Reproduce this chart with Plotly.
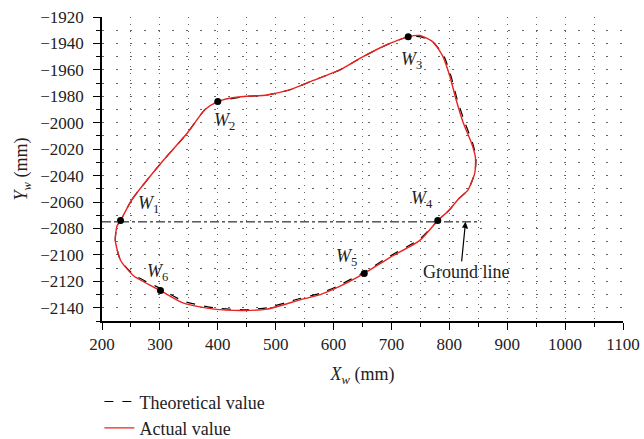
import plotly.graph_objects as go

# Actual trajectory (closed loop, starting at W1)
actual_x = [232, 252, 301, 347, 378, 400, 421, 450, 485, 525, 565, 611, 651, 692, 729, 749, 772, 789, 801, 812, 824, 838, 845, 844, 832, 815, 800, 780, 749, 697, 653, 605, 577, 542, 485, 445, 393, 341, 301, 255, 232, 223, 226, 232]
actual_y = [-2074, -2058, -2031, -2008, -1990, -1984, -1981.5, -1980, -1979, -1975, -1968, -1960, -1950, -1941, -1935, -1934, -1939, -1950, -1965, -1983, -2000, -2015, -2026, -2038, -2051, -2058, -2066, -2074, -2089, -2102, -2114, -2125, -2130, -2134, -2141, -2142, -2141, -2136.5, -2127, -2116, -2104, -2089, -2078, -2074]

# Theoretical trajectory
theo_x = [232, 252, 301, 347, 378, 400, 421, 450, 485, 525, 565, 611, 651, 692, 729, 751, 774, 791, 803, 814, 827, 840, 846, 844, 832, 815, 800, 780, 749, 697, 653, 605, 577, 542, 485, 445, 393, 341, 301, 255, 232, 223, 226, 232]
theo_y = [-2074, -2058, -2031, -2008, -1990, -1984, -1982, -1980, -1979, -1975, -1968, -1960, -1950, -1941, -1935, -1935, -1940, -1950, -1965, -1983, -2000, -2015, -2026, -2038, -2051, -2058, -2066, -2074, -2088, -2101, -2113, -2124, -2129, -2133, -2140, -2141.5, -2140, -2135, -2125.5, -2115, -2104, -2089, -2078, -2074]

# Key points W1..W6
w_x = [232, 400, 729, 780, 653, 301]
w_y = [-2074, -1984, -1935, -2074, -2114, -2127]
w_labels = ["1", "2", "3", "4", "5", "6"]
w_label_x = [280, 411, 734, 753, 622, 296]
w_label_y = [-2062, -1999, -1953, -2058, -2102, -2113]

ground_y = -2075
ground_x = [200, 855]

x_ticks = [200, 300, 400, 500, 600, 700, 800, 900, 1000, 1100]
y_ticks = list(range(-2140, -1919, 20))
y_ticktext = [f"\u2212{abs(v)}" for v in y_ticks]

FONT = "Liberation Serif"
FS = 18
TFS = 17
GRID = "#666"

fig = go.Figure()
fig.add_trace(go.Scatter(x=theo_x, y=theo_y, mode="lines", name="Theoretical value",
                         line=dict(color="black", width=1.2, dash="dash", shape="spline", smoothing=0.6)))
fig.add_trace(go.Scatter(x=actual_x, y=actual_y, mode="lines", name="Actual value",
                         line=dict(color="#e8231f", width=1.4, shape="spline", smoothing=0.6)))
fig.add_trace(go.Scatter(x=ground_x, y=[ground_y, ground_y], mode="lines", showlegend=False,
                         line=dict(color="black", width=1, dash="dashdot")))
fig.add_trace(go.Scatter(x=w_x, y=w_y, mode="markers", showlegend=False,
                         marker=dict(color="black", size=7)))

for lx, ly, lab in zip(w_label_x, w_label_y, w_labels):
    fig.add_annotation(x=lx, y=ly, text=f"<i>W</i><sub>{lab}</sub>", showarrow=False,
                       font=dict(family=FONT, size=FS, color="#222"))

fig.add_annotation(x=828, y=ground_y, ax=821, ay=-2106, xref="x", yref="y", axref="x", ayref="y",
                   text="", showarrow=True, arrowhead=2, arrowsize=1, arrowwidth=1.2, arrowcolor="black")
fig.add_annotation(x=829, y=-2113, text="Ground line", showarrow=False,
                   font=dict(family=FONT, size=FS, color="#222"))

fig.update_layout(
    width=644, height=439,
    margin=dict(l=102, r=21, t=17, b=118, autoexpand=False),
    plot_bgcolor="white", paper_bgcolor="white",
    font=dict(family=FONT, size=FS, color="#222"),
    showlegend=True,
    legend=dict(x=-0.005, y=-0.205, xanchor="left", yanchor="top", bgcolor="rgba(0,0,0,0)",
                font=dict(family=FONT, size=FS, color="#222"), tracegroupgap=0),
    xaxis=dict(range=[200, 1100], tickvals=x_ticks, automargin=False, ticklabeloverflow="allow",
               tickfont=dict(family=FONT, size=TFS, color="#222"),
               showline=True, linecolor="black", linewidth=1.5, ticks="outside", ticklen=7,
               tickcolor="black", ticklabelstandoff=0,
               showgrid=True, gridcolor=GRID, gridwidth=1, griddash="1px,6px",
               minor=dict(dtick=50, ticks="outside", ticklen=4, tickcolor="black",
                          showgrid=True, gridcolor=GRID, gridwidth=1, griddash="1px,6px"),
               zeroline=False,
               title=dict(text="<i>X</i><sub><i>w</i></sub> (mm)", standoff=14,
                          font=dict(family=FONT, size=FS))),
    yaxis=dict(range=[-2150, -1920], tickvals=y_ticks, ticktext=y_ticktext, automargin=False,
               ticklabeloverflow="allow",
               tickfont=dict(family=FONT, size=TFS, color="#222"),
               showline=True, linecolor="black", linewidth=1.5, ticks="outside", ticklen=7,
               tickcolor="black", ticklabelstandoff=6,
               showgrid=True, gridcolor=GRID, gridwidth=1, griddash="2px,12px",
               minor=dict(dtick=10, ticks="outside", ticklen=4, tickcolor="black",
                          showgrid=True, gridcolor=GRID, gridwidth=1, griddash="2px,12px"),
               zeroline=False,
               title=dict(text="<i>Y</i><sub><i>w</i></sub> (mm)", standoff=8,
                          font=dict(family=FONT, size=FS))),
)

fig.write_html("out.html", config={"displayModeBar": False},
               post_script="document.body.style.margin='0';document.body.style.overflow='hidden';")
